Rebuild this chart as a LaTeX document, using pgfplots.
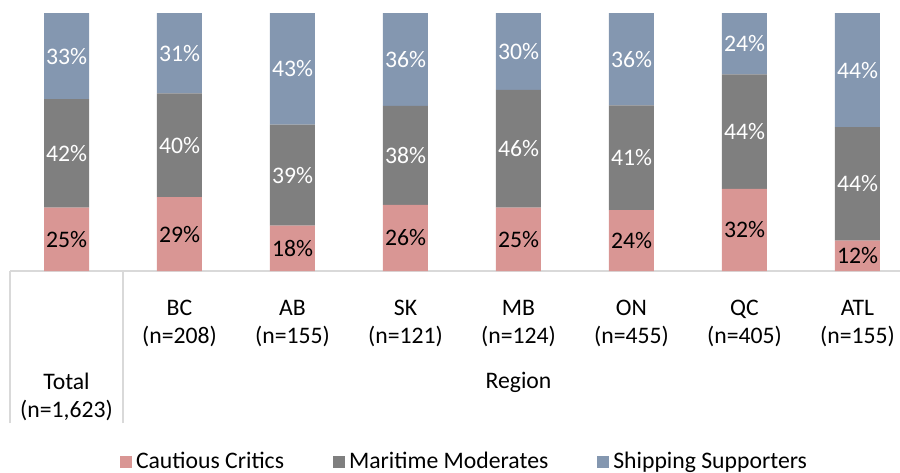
\documentclass[border=0pt]{standalone}
\usepackage{pgfplots}
\pgfplotsset{compat=1.18}
\usepackage{fontspec}
\setmainfont{Carlito}
\definecolor{critics}{HTML}{D99694}
\definecolor{moderates}{HTML}{7F7F7F}
\definecolor{supporters}{HTML}{8497B0}
\definecolor{axisgray}{HTML}{D9D9D9}
\pgfplotsset{
  base/.style={
    at={(5pt,100.5pt)}, anchor=south west,
    scale only axis, width=452pt, height=129pt,
    xmin=-0.5, xmax=7.5, ymin=0, ymax=100,
    clip=false,
  }
}
\begin{document}
\begin{tikzpicture}[font=\fontsize{11.85}{14.3}\selectfont]
\clip (0,0) rectangle (450pt,236pt);
\begin{axis}[base,
  ybar stacked, bar width=22.5pt,
  hide y axis, axis x line*=bottom,
  x axis line style={draw=axisgray, line width=0.75pt},
  xtick={1,2,3,4,5,6,7},
  xticklabels={{BC\\(n=208)},{AB\\(n=155)},{SK\\(n=121)},{MB\\(n=124)},{ON\\(n=455)},{QC\\(n=405)},{ATL\\(n=155)}},
  xticklabel style={align=center, anchor=center, yshift=-26.3pt},
  major tick length=0pt,
  extra x ticks={-0.5,0.5,7.5},
  extra x tick labels={},
  extra x tick style={major tick length=76pt, tick align=outside, tick style={draw=axisgray, line width=0.75pt}},
  legend columns=3,
  legend image code/.code={\draw[#1, draw=none] (0pt,-3pt) rectangle (6pt,3pt);},
  legend style={draw=none, fill=none, at={(axis description cs:0.5039,-0.7400)}, anchor=center,
    /tikz/every even column/.append style={column sep=22.5pt}},
]
\addplot[fill=critics, draw=none] coordinates {(0,24.6) (1,28.6) (2,17.6) (3,25.6) (4,24.6) (5,23.6) (6,31.8) (7,11.8)};
\addplot[fill=moderates, draw=none] coordinates {(0,42.0) (1,40.2) (2,39.1) (3,38.4) (4,45.6) (5,40.6) (6,44.4) (7,44.0)};
\addplot[fill=supporters, draw=none] coordinates {(0,33.4) (1,31.2) (2,43.3) (3,36.0) (4,29.8) (5,35.8) (6,23.8) (7,44.2)};
\legend{Cautious Critics, Maritime Moderates, Shipping Supporters}
\node[align=center] at (axis cs:0,0) [yshift=-63pt] {Total\\(n=1,623)};
\node at (axis cs:4,0) [yshift=-55.5pt] {Region};
\end{axis}
\begin{axis}[base, hide axis]
\addplot[draw=none, mark=none, nodes near coords, point meta=explicit symbolic,
  every node near coord/.style={anchor=center, text=black}]
  coordinates {(0,12.3)[25\%] (1,14.3)[29\%] (2,8.8)[18\%] (3,12.8)[26\%] (4,12.3)[25\%] (5,11.8)[24\%] (6,15.9)[32\%] (7,5.9)[12\%]};
\addplot[draw=none, mark=none, nodes near coords, point meta=explicit symbolic,
  every node near coord/.style={anchor=center, text=white}]
  coordinates {(0,45.6)[42\%] (1,48.7)[40\%] (2,37.15)[39\%] (3,44.8)[38\%] (4,47.4)[46\%] (5,43.9)[41\%] (6,54.0)[44\%] (7,33.8)[44\%]};
\addplot[draw=none, mark=none, nodes near coords, point meta=explicit symbolic,
  every node near coord/.style={anchor=center, text=white}]
  coordinates {(0,83.3)[33\%] (1,84.4)[31\%] (2,78.35)[43\%] (3,82.0)[36\%] (4,85.1)[30\%] (5,82.1)[36\%] (6,88.1)[24\%] (7,77.9)[44\%]};
\end{axis}
\end{tikzpicture}
\end{document}
